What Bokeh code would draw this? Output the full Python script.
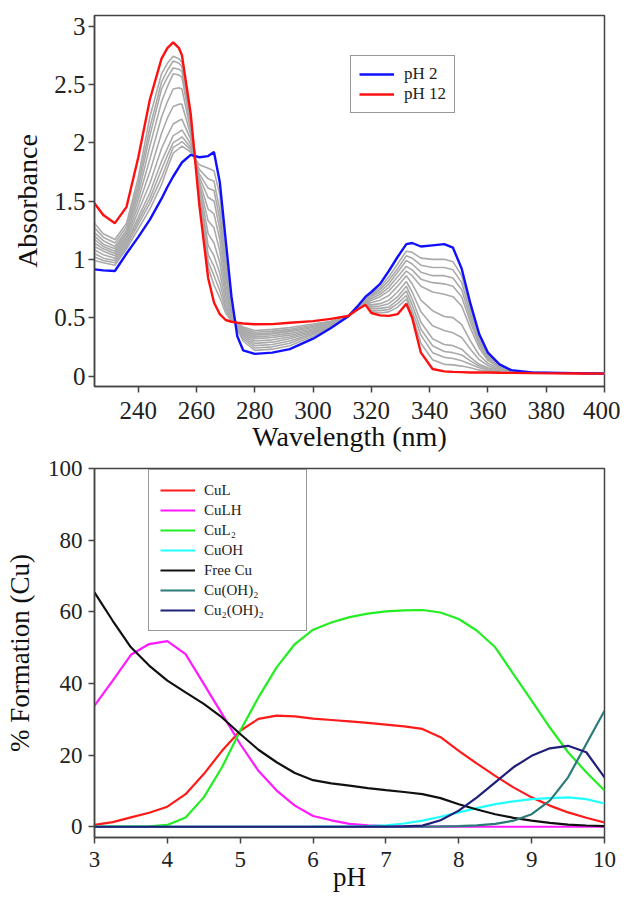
from bokeh.plotting import figure
from bokeh.layouts import column
from bokeh.models import FixedTicker, NumeralTickFormatter, Range1d
from bokeh.embed import file_html
from bokeh.resources import INLINE

# ---------------- Top chart: UV-Vis spectra ----------------
wavelength = [225, 228, 232, 236, 240, 244, 248, 250, 252, 254, 255, 258, 261, 264, 266, 268, 270,
              272, 274, 276, 280, 286, 292, 300, 306, 312, 315, 318, 320, 323, 326, 329,
              332, 334, 337, 341, 345, 348, 351, 354, 357, 360, 364, 368, 375, 390, 400]

abs_ph2 = [0.914, 0.905, 0.90, 1.05, 1.19, 1.34, 1.52, 1.62, 1.71, 1.79, 1.83, 1.895, 1.875, 1.885, 1.92, 1.66, 1.17,
           0.68, 0.34, 0.22, 0.19, 0.20, 0.23, 0.32, 0.41, 0.51, 0.59, 0.68, 0.72, 0.79, 0.90, 1.02,
           1.13, 1.14, 1.11, 1.12, 1.13, 1.10, 0.92, 0.62, 0.36, 0.20, 0.10, 0.05, 0.03, 0.025, 0.02]

abs_ph12 = [1.48, 1.38, 1.31, 1.45, 1.87, 2.37, 2.72, 2.81, 2.86, 2.81, 2.75, 2.25, 1.46, 0.84, 0.63, 0.53, 0.48,
            0.465, 0.457, 0.45, 0.443, 0.445, 0.457, 0.47, 0.49, 0.514, 0.565, 0.61, 0.54, 0.52, 0.515, 0.53,
            0.62, 0.50, 0.20, 0.06, 0.04, 0.035, 0.033, 0.03, 0.03, 0.03, 0.028, 0.027, 0.025, 0.022, 0.02]

abs_mid_01 = [0.99, 0.97, 0.95, 1.09, 1.26, 1.43, 1.64, 1.78, 1.91, 1.95, 1.97, 1.92, 1.81, 1.78, 1.76, 1.55, 1.02,
              0.62, 0.40, 0.30, 0.22, 0.23, 0.26, 0.34, 0.42, 0.51, 0.585, 0.675, 0.70, 0.76, 0.85, 0.96,
              1.07, 1.06, 1.01, 1.00, 1.00, 0.98, 0.86, 0.58, 0.33, 0.18, 0.09, 0.045, 0.03, 0.025, 0.02]
abs_mid_02 = [1.02, 0.99, 0.97, 1.11, 1.30, 1.48, 1.70, 1.83, 1.96, 1.99, 2.01, 1.94, 1.77, 1.69, 1.67, 1.42, 0.96,
              0.60, 0.41, 0.32, 0.24, 0.25, 0.28, 0.355, 0.425, 0.51, 0.583, 0.67, 0.69, 0.74, 0.82, 0.92,
              1.03, 1.01, 0.95, 0.93, 0.93, 0.91, 0.80, 0.54, 0.31, 0.17, 0.085, 0.044, 0.03, 0.025, 0.02]
abs_mid_03 = [1.05, 1.01, 0.99, 1.13, 1.33, 1.52, 1.77, 1.89, 2.00, 2.03, 2.05, 1.96, 1.73, 1.61, 1.59, 1.34, 0.91,
              0.58, 0.415, 0.335, 0.26, 0.27, 0.30, 0.365, 0.43, 0.51, 0.581, 0.665, 0.68, 0.72, 0.79, 0.89,
              0.99, 0.96, 0.89, 0.86, 0.86, 0.84, 0.74, 0.50, 0.29, 0.16, 0.08, 0.043, 0.03, 0.025, 0.02]
abs_mid_04 = [1.08, 1.04, 1.01, 1.15, 1.36, 1.57, 1.84, 1.95, 2.06, 2.09, 2.11, 1.99, 1.70, 1.53, 1.50, 1.26, 0.86,
              0.57, 0.42, 0.35, 0.28, 0.29, 0.32, 0.375, 0.435, 0.51, 0.579, 0.66, 0.665, 0.70, 0.76, 0.85,
              0.94, 0.91, 0.83, 0.80, 0.79, 0.77, 0.68, 0.46, 0.27, 0.15, 0.075, 0.042, 0.03, 0.025, 0.02]
abs_mid_05 = [1.11, 1.07, 1.03, 1.17, 1.41, 1.65, 1.95, 2.06, 2.16, 2.19, 2.20, 2.03, 1.67, 1.43, 1.39, 1.17, 0.80,
              0.55, 0.425, 0.36, 0.30, 0.31, 0.335, 0.385, 0.44, 0.51, 0.577, 0.655, 0.65, 0.68, 0.73, 0.81,
              0.90, 0.86, 0.77, 0.72, 0.70, 0.68, 0.60, 0.41, 0.24, 0.135, 0.07, 0.04, 0.03, 0.025, 0.02]
abs_mid_06 = [1.14, 1.09, 1.05, 1.19, 1.46, 1.75, 2.08, 2.21, 2.31, 2.33, 2.33, 2.07, 1.64, 1.33, 1.27, 1.07, 0.74,
              0.53, 0.43, 0.37, 0.32, 0.33, 0.35, 0.395, 0.445, 0.51, 0.575, 0.65, 0.63, 0.65, 0.69, 0.77,
              0.86, 0.79, 0.65, 0.56, 0.51, 0.50, 0.44, 0.30, 0.18, 0.11, 0.06, 0.038, 0.03, 0.025, 0.02]
abs_mid_07 = [1.17, 1.11, 1.07, 1.21, 1.51, 1.86, 2.22, 2.35, 2.46, 2.47, 2.46, 2.11, 1.62, 1.22, 1.14, 0.97, 0.69,
              0.52, 0.435, 0.38, 0.335, 0.345, 0.365, 0.405, 0.45, 0.51, 0.573, 0.645, 0.61, 0.62, 0.65, 0.72,
              0.81, 0.72, 0.55, 0.43, 0.39, 0.37, 0.33, 0.23, 0.14, 0.09, 0.05, 0.036, 0.03, 0.025, 0.02]
abs_mid_08 = [1.20, 1.13, 1.09, 1.23, 1.56, 1.97, 2.35, 2.48, 2.59, 2.58, 2.56, 2.15, 1.60, 1.12, 1.03, 0.88, 0.64,
              0.50, 0.44, 0.39, 0.35, 0.36, 0.38, 0.415, 0.455, 0.51, 0.571, 0.64, 0.595, 0.60, 0.62, 0.68,
              0.77, 0.66, 0.46, 0.32, 0.27, 0.26, 0.23, 0.16, 0.10, 0.07, 0.045, 0.034, 0.03, 0.025, 0.02]
abs_mid_09 = [1.23, 1.16, 1.11, 1.25, 1.61, 2.06, 2.46, 2.56, 2.64, 2.63, 2.61, 2.18, 1.58, 1.04, 0.94, 0.80, 0.60,
              0.49, 0.445, 0.40, 0.36, 0.37, 0.39, 0.425, 0.46, 0.512, 0.569, 0.635, 0.58, 0.58, 0.59, 0.65,
              0.73, 0.61, 0.40, 0.26, 0.21, 0.20, 0.18, 0.13, 0.085, 0.06, 0.04, 0.032, 0.03, 0.025, 0.02]
abs_mid_10 = [1.27, 1.19, 1.14, 1.28, 1.65, 2.13, 2.52, 2.62, 2.70, 2.68, 2.65, 2.20, 1.57, 0.98, 0.86, 0.73, 0.57,
              0.48, 0.447, 0.41, 0.375, 0.385, 0.40, 0.435, 0.465, 0.512, 0.567, 0.63, 0.565, 0.56, 0.57, 0.62,
              0.69, 0.56, 0.35, 0.20, 0.16, 0.15, 0.13, 0.10, 0.07, 0.05, 0.035, 0.031, 0.03, 0.025, 0.02]
abs_mid_11 = [1.31, 1.22, 1.17, 1.31, 1.70, 2.22, 2.59, 2.68, 2.74, 2.72, 2.69, 2.22, 1.56, 0.93, 0.78, 0.67, 0.54,
              0.47, 0.45, 0.42, 0.39, 0.40, 0.415, 0.445, 0.47, 0.513, 0.566, 0.62, 0.555, 0.54, 0.55, 0.59,
              0.66, 0.52, 0.28, 0.14, 0.10, 0.095, 0.085, 0.07, 0.05, 0.04, 0.032, 0.03, 0.03, 0.025, 0.02]

intermediate_spectra = [abs_mid_01, abs_mid_02, abs_mid_03, abs_mid_04, abs_mid_05, abs_mid_06,
                        abs_mid_07, abs_mid_08, abs_mid_09, abs_mid_10, abs_mid_11]

wl_ticks = [240, 260, 280, 300, 320, 340, 360, 380, 400]
abs_ticks = [0, 0.5, 1, 1.5, 2, 2.5, 3]

# ---------------- Bottom chart: speciation ----------------
ph = [3, 3.25, 3.5, 3.75, 4, 4.25, 4.5, 4.75, 5, 5.25, 5.5, 5.75, 6, 6.25, 6.5, 6.75, 7,
      7.25, 7.5, 7.75, 8, 8.25, 8.5, 8.75, 9, 9.25, 9.5, 9.75, 10]

cul = [0.5, 1.3, 2.6, 3.9, 5.6, 9.1, 14.7, 21.2, 26.8, 30.1, 31.0, 30.8, 30.2, 29.8, 29.4, 29.0, 28.5,
       28.0, 27.3, 25.0, 21.2, 17.6, 14.2, 11.0, 8.2, 5.9, 4.0, 2.5, 1.2]
culh = [33.8, 40.8, 48.0, 51.0, 51.8, 48.2, 39.9, 31.5, 23.1, 15.6, 10.1, 5.9, 3.0, 1.8, 0.8, 0.4, 0.2,
        0.1, 0.05, 0.02, 0.01, 0.0, 0.0, 0.0, 0.0, 0.0, 0.0, 0.0, 0.0]
cul2 = [0.0, 0.02, 0.05, 0.1, 0.5, 2.6, 8.2, 16.6, 26.8, 36.1, 44.5, 51.0, 55.0, 57.0, 58.5, 59.5, 60.1,
        60.4, 60.5, 59.8, 58.0, 54.7, 50.1, 42.6, 35.2, 27.7, 20.8, 15.2, 10.1]
cuoh = [0.0, 0.0, 0.0, 0.0, 0.0, 0.0, 0.0, 0.0, 0.0, 0.0, 0.0, 0.0, 0.02, 0.05, 0.1, 0.2, 0.4,
        0.9, 1.7, 2.8, 4.0, 5.2, 6.3, 7.1, 7.7, 8.0, 8.2, 7.7, 6.5]
free_cu = [65.4, 57.5, 50.1, 45.0, 40.8, 37.5, 34.3, 30.5, 25.9, 21.5, 18.0, 15.0, 13.0, 12.1, 11.5, 10.8, 10.2,
           9.7, 9.1, 8.0, 6.3, 4.8, 3.5, 2.5, 1.7, 1.1, 0.6, 0.35, 0.2]
cu_oh2 = [0.0, 0.0, 0.0, 0.0, 0.0, 0.0, 0.0, 0.0, 0.0, 0.0, 0.0, 0.0, 0.0, 0.0, 0.0, 0.0, 0.0,
          0.02, 0.05, 0.1, 0.2, 0.4, 0.8, 1.7, 3.5, 7.3, 13.8, 23.1, 32.4]
cu2_oh2 = [0.0, 0.0, 0.0, 0.0, 0.0, 0.0, 0.0, 0.0, 0.0, 0.0, 0.0, 0.0, 0.0, 0.0, 0.0, 0.02, 0.05,
           0.1, 0.3, 1.8, 4.5, 8.2, 12.4, 16.6, 19.8, 21.9, 22.6, 20.8, 13.8]

species_names = ["CuL", "CuLH", "CuL\u2082", "CuOH", "Free Cu", "Cu(OH)\u2082", "Cu\u2082(OH)\u2082"]
species_values = [cul, culh, cul2, cuoh, free_cu, cu_oh2, cu2_oh2]
species_colors = ["#ff1a1a", "#ff1aff", "#22ee22", "#22ffff", "#111111", "#2a7a78", "#20207a"]

ph_ticks = [3, 4, 5, 6, 7, 8, 9, 10]
pct_ticks = [0, 20, 40, 60, 80, 100]

FONT = "'Liberation Serif', serif"
AXIS_COLOR = "#444444"


def style(p, tick_size, label_size, x_tick_standoff, x_label_standoff, y_tick_standoff, y_label_standoff):
    p.outline_line_color = AXIS_COLOR
    p.outline_line_width = 1.5
    p.xgrid.visible = False
    p.ygrid.visible = False
    p.background_fill_color = "white"
    p.border_fill_color = "white"
    for ax in (p.xaxis[0], p.yaxis[0]):
        ax.axis_line_color = AXIS_COLOR
        ax.axis_line_width = 1.5
        ax.major_tick_line_color = AXIS_COLOR
        ax.major_tick_line_width = 1.5
        ax.major_tick_out = 6
        ax.major_tick_in = 0
        ax.minor_tick_line_color = None
        ax.major_label_text_font = FONT
        ax.major_label_text_font_size = tick_size
        ax.major_label_text_color = "#222222"
        ax.axis_label_text_font = FONT
        ax.axis_label_text_font_size = label_size
        ax.axis_label_text_font_style = "normal"
        ax.axis_label_text_color = "#111111"
    p.xaxis[0].major_label_standoff = x_tick_standoff
    p.xaxis[0].axis_label_standoff = x_label_standoff
    p.yaxis[0].major_label_standoff = y_tick_standoff
    p.yaxis[0].axis_label_standoff = y_label_standoff


# ---- top figure ----
p1 = figure(width=620, height=457,
            min_border_left=90, min_border_right=15, min_border_top=15, min_border_bottom=71,
            x_range=Range1d(225, 400), y_range=Range1d(-0.09, 3.09),
            output_backend="svg", toolbar_location=None,
            x_axis_label="Wavelength (nm)", y_axis_label="Absorbance")
style(p1, "25px", "28px", 9, -1, 3, 8)
p1.xaxis[0].ticker = FixedTicker(ticks=wl_ticks)
p1.yaxis[0].ticker = FixedTicker(ticks=abs_ticks)
p1.yaxis[0].formatter = NumeralTickFormatter(format="0.[0]")

for spec in intermediate_spectra:
    p1.line(wavelength, spec, line_color="#aaaaaa", line_width=1.6)
p1.line(wavelength, abs_ph2, line_color="#1010ff", line_width=2.4, legend_label="pH 2")
p1.line(wavelength, abs_ph12, line_color="#ff1010", line_width=2.4, legend_label="pH 12")

lg1 = p1.legend[0]
lg1.location = (256, 273)
lg1.margin = 0
lg1.padding = 8
lg1.spacing = 0
lg1.glyph_width = 35
lg1.glyph_height = 18
lg1.label_height = 18
lg1.label_standoff = 10
lg1.label_width = 39
lg1.label_text_font = FONT
lg1.label_text_font_size = "17px"
lg1.label_text_color = "#222222"
lg1.border_line_color = "#333333"
lg1.border_line_width = 1.5
lg1.background_fill_alpha = 1.0

# ---- bottom figure ----
p2 = figure(width=620, height=447,
            min_border_left=94, min_border_right=16, min_border_top=11, min_border_bottom=67,
            x_range=Range1d(3, 10), y_range=Range1d(-3, 100),
            output_backend="svg", toolbar_location=None,
            x_axis_label="pH", y_axis_label="% Formation (Cu)")
style(p2, "23px", "27px", 8, -8, 6, 10)
p2.xaxis[0].ticker = FixedTicker(ticks=ph_ticks)
p2.yaxis[0].ticker = FixedTicker(ticks=pct_ticks)

for name, vals, col in zip(species_names, species_values, species_colors):
    p2.line(ph, vals, line_color=col, line_width=2.2, legend_label=name)

lg2 = p2.legend[0]
lg2.margin = 0
lg2.padding = 11
lg2.spacing = 2
lg2.glyph_width = 35
lg2.glyph_height = 18
lg2.label_height = 18
lg2.label_standoff = 9
lg2.label_width = 91
lg2.label_text_font = FONT
lg2.label_text_font_size = "15px"
lg2.label_text_color = "#222222"
lg2.border_line_color = "#333333"
lg2.border_line_width = 1.5
lg2.background_fill_alpha = 1.0
lg2.location = (54, 206)

layout = column(p1, p2, spacing=0)
open("out.html", "w").write(file_html(layout, INLINE))
